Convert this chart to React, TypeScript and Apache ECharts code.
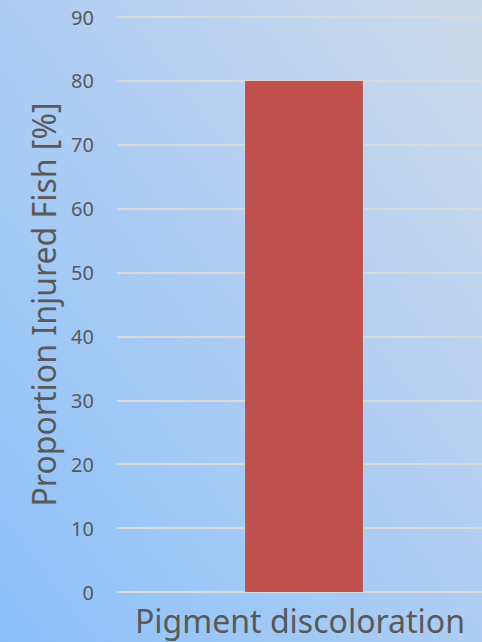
import React, { useEffect, useRef } from "react";
import * as echarts from "echarts";

const categories = ["Pigment discoloration"];
const values = [80];
const yTicks = { min: 0, max: 90, interval: 10 };

export default function App() {
  const ref = useRef<HTMLDivElement>(null);
  useEffect(() => {
    if (!ref.current) return;
    const chart = echarts.init(ref.current, undefined, { renderer: "svg" });
    chart.setOption({
      animation: false,
      backgroundColor: new echarts.graphic.LinearGradient(0, 1, 1, 0, [
        { offset: 0, color: "#8BC1FB" },
        { offset: 0.5, color: "#AECDF3" },
        { offset: 1, color: "#CBDAEB" },
      ]),
      grid: { left: 117, top: 17, width: 374, height: 575, outerBoundsMode: "none" },
      xAxis: {
        type: "category",
        data: categories,
        axisLine: { show: false },
        axisTick: { show: false },
        axisLabel: {
          color: "#595959",
          fontSize: 32,
          fontFamily: "Noto Sans",
          margin: 12,
          padding: [0, 8, 0, 0],
        },
      },
      yAxis: {
        type: "value",
        min: yTicks.min,
        max: yTicks.max,
        interval: yTicks.interval,
        name: "Proportion Injured Fish [%]",
        nameLocation: "middle",
        nameGap: 58,
        nameTextStyle: { color: "#595959", fontSize: 32, fontFamily: "Noto Sans" },
        axisLine: { show: false },
        axisTick: { show: false },
        axisLabel: { color: "#595959", fontSize: 20, fontFamily: "Noto Sans", margin: 23 },
        splitLine: { lineStyle: { color: "#D9D9D9", width: 2 } },
      },
      series: [
        {
          type: "bar",
          data: values,
          barWidth: "31.5%",
          itemStyle: { color: "#C0504D" },
        },
      ],
    });
    return () => chart.dispose();
  }, []);
  return (
    <div
      ref={ref}
      style={{ position: "fixed", left: 0, top: 0, width: 482, height: 642 }}
    />
  );
}
